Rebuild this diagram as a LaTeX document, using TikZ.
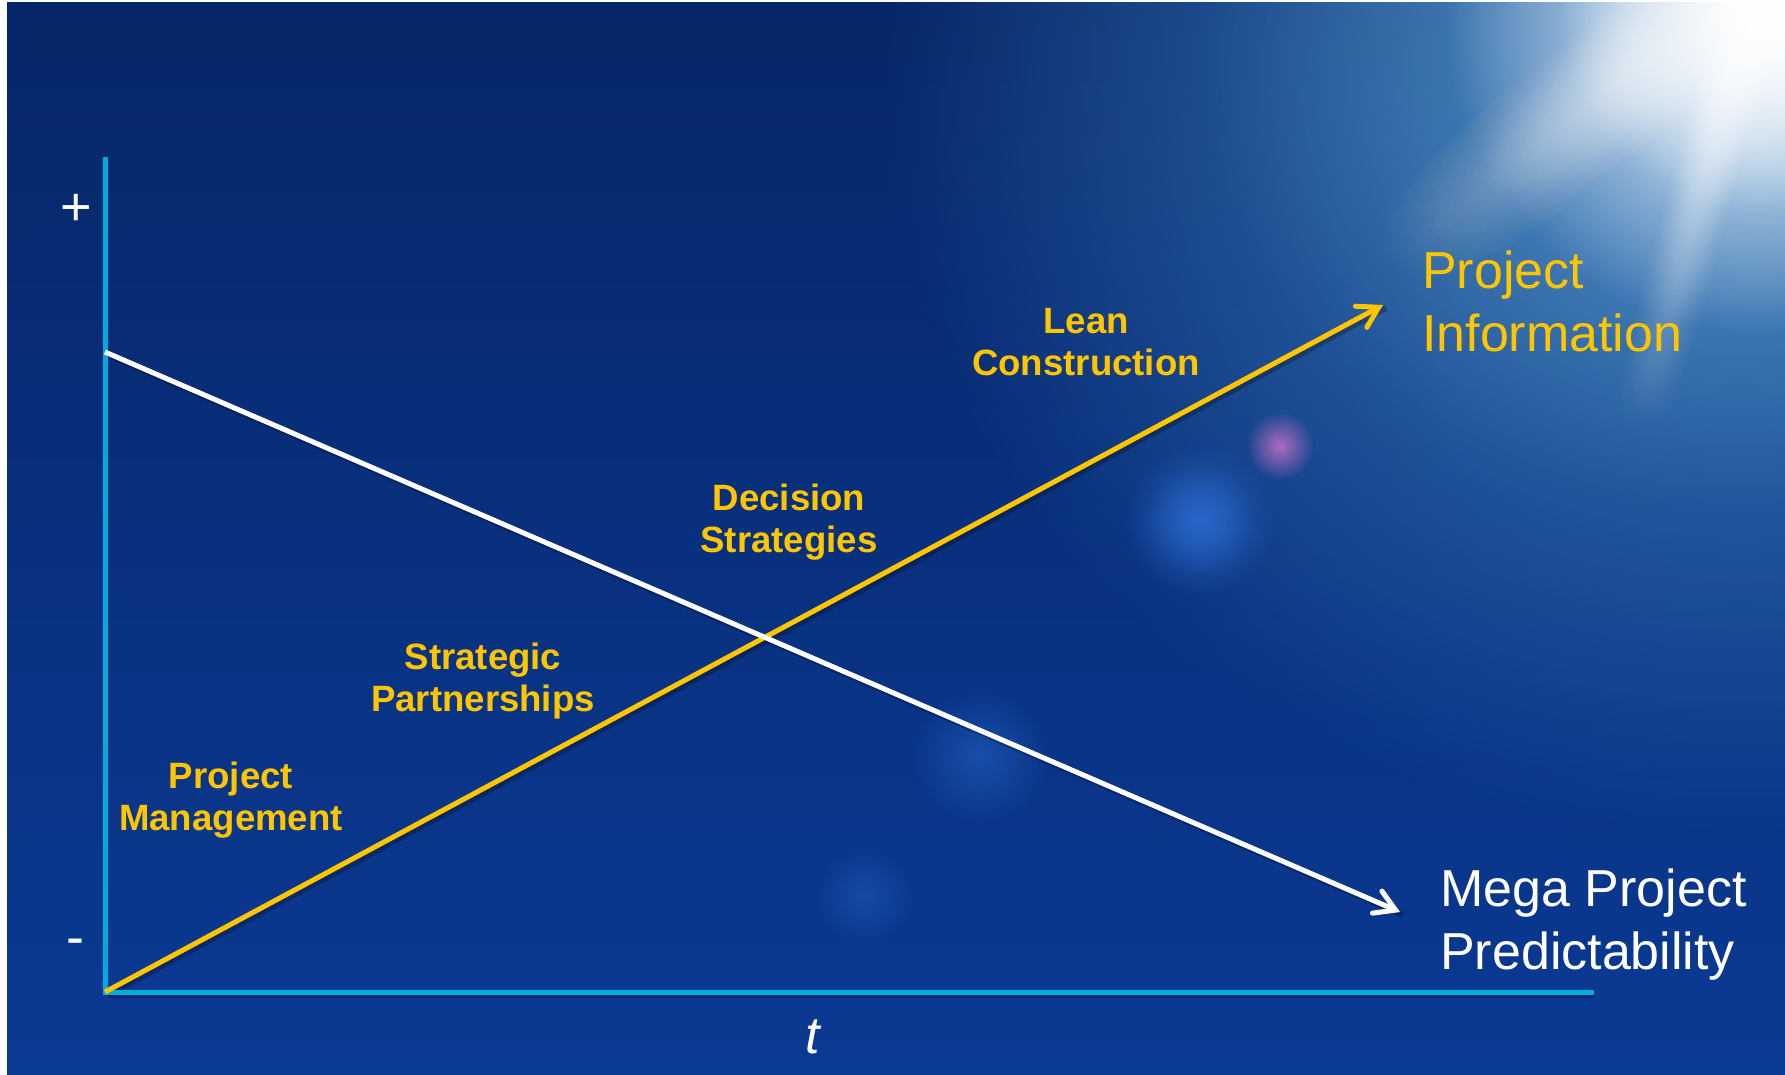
\documentclass[tikz,border=0pt]{standalone}
\usepackage{fontspec}
\setmainfont{Liberation Sans}
\usetikzlibrary{arrows.meta,fadings,calc}
\definecolor{axiscol}{RGB}{0,172,222}
\definecolor{gold}{RGB}{255,198,0}
\definecolor{bgtop}{RGB}{6,38,104}
\definecolor{bgbot}{RGB}{11,58,148}
\definecolor{glow}{RGB}{70,140,200}
\definecolor{flarepink}{RGB}{190,110,200}
\definecolor{flareblue}{RGB}{45,110,215}
\tikzfading[name=radfade, inner color=transparent!0, outer color=transparent!100]
\tikzset{
  axisline/.style={line width=5pt, axiscol, line cap=rect},
  trendline/.style={line width=5pt, -{Straight Barb[length=20pt,width=24pt,line cap=round]}},
  shadowline/.style={line width=6pt, black, opacity=0.25},
  biglabel/.style={font=\fontsize{52}{63}\selectfont, align=left, inner sep=0pt, anchor=base west},
  boldlabel/.style={font=\bfseries\fontsize{36.6}{42}\selectfont, gold, align=center, inner sep=0pt, anchor=base},
  signlabel/.style={font=\fontsize{54}{60}\selectfont, white, inner sep=0pt},
}
\begin{document}
\begin{tikzpicture}[x=1pt,y=-1pt]
\useasboundingbox (0,0) rectangle (1785,1075);
\fill[white] (0,0) rectangle (1785,1075);
\begin{scope}
  \clip (7,3) rectangle (1785,1075);
  \shade[top color=bgtop, bottom color=bgbot] (7,3) rectangle (1785,1075);
  % broad glow from the upper right
  \fill[glow, path fading=radfade, opacity=0.95] (1740,80) ellipse (860 and 760);
  \fill[glow!80!white, path fading=radfade, opacity=0.5] (1740,60) ellipse (540 and 460);
  % sun rays (chains of soft spots)
  \foreach \i in {0,...,40}{
    \pgfmathsetmacro{\op}{0.16*(1-\i/46)}
    \fill[white, path fading=radfade, opacity=\op] ($(1735,60)!\i/40!(1645,400)$) circle (36);
  }
  \foreach \i in {0,...,40}{
    \pgfmathsetmacro{\op}{0.08*(1-\i/46)}
    \fill[white, path fading=radfade, opacity=\op] ($(1660,50)!\i/40!(1420,240)$) circle (75);
  }
  % sun
  \fill[white, path fading=radfade, opacity=1] (1765,15) circle (320);
  \fill[white, path fading=radfade, opacity=0.95] (1760,15) circle (200);
  % lens flares
  \fill[flarepink, path fading=radfade, opacity=0.9] (1280,446) circle (34);
  \fill[flareblue, path fading=radfade, opacity=0.7] (1200,520) circle (75);
  \fill[flareblue, path fading=radfade, opacity=0.5] (1200,520) circle (55);
  \fill[flareblue, path fading=radfade, opacity=0.45] (980,755) circle (70);
  \fill[flareblue, path fading=radfade, opacity=0.35] (865,895) circle (50);
\end{scope}

% named points
\coordinate (O) at (105,992);
\coordinate (ytop) at (105,160);
\coordinate (xend) at (1591,992);
\coordinate (wstart) at (105,352);
\coordinate (wend) at (1400,912);
\coordinate (yend) at (1383,305);

% shadows
\draw[shadowline] ([shift={(3,3)}]O) -- ([shift={(3,3)}]xend);
\draw[shadowline] ([shift={(3,3)}]O) -- ([shift={(3,3)}]yend);
\draw[shadowline] ([shift={(3,3)}]wstart) -- ([shift={(3,3)}]wend);

% axes
\draw[axisline] (ytop) -- (O) -- (xend);

% trend lines
\draw[trendline, gold] (O) -- (yend);
\draw[trendline, white] (wstart) -- (wend);

% labels
\node[signlabel] (plus) at (76,210) {+};
\node[signlabel] (minus) at (75,947) {-};
\node[font=\itshape\fontsize{52}{60}\selectfont, white, inner sep=0pt, anchor=base] (t) at (813,1053) {t};

\node[biglabel, gold] (pinfo) at (1422,351) {Project\\Information};
\node[biglabel, white] (mpp) at (1440,969) {Mega Project\\Predictability};

\node[boldlabel] (lean) at (1086,375) {Lean\\Construction};
\node[boldlabel] (dec) at (789,552) {Decision\\Strategies};
\node[boldlabel] (strat) at (483,711) {Strategic\\Partnerships};
\node[boldlabel] (pm) at (231,830) {Project\\Management};
\end{tikzpicture}
\end{document}
